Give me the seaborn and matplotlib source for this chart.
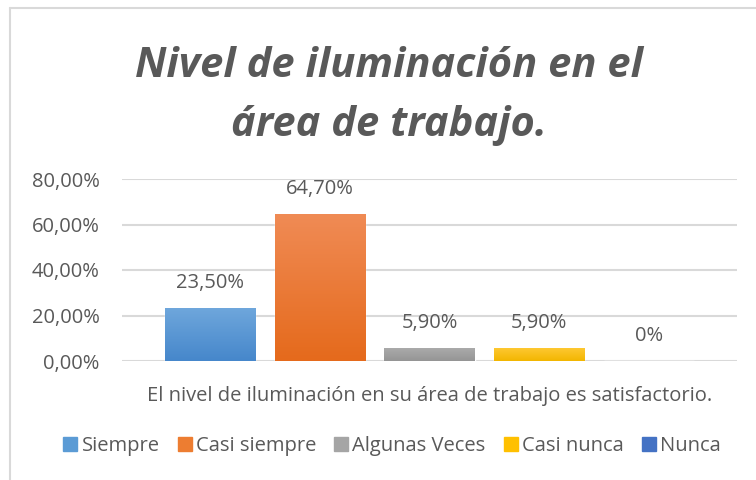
import numpy as np
import seaborn as sns
import matplotlib.pyplot as plt
from matplotlib.colors import LinearSegmentedColormap
from matplotlib.patches import Rectangle

categorias = ["Siempre", "Casi siempre", "Algunas Veces", "Casi nunca", "Nunca"]
valores = [0.235, 0.647, 0.059, 0.059, 0.0]
etiquetas = ["23,50%", "64,70%", "5,90%", "5,90%", "0%"]
ticks_y = [0.0, 0.2, 0.4, 0.6, 0.8]
ticks_y_txt = ["0,00%", "20,00%", "40,00%", "60,00%", "80,00%"]

colores = ["#5B9BD5", "#ED7D31", "#A5A5A5", "#FFC000", "#4472C4"]
degradados = [("#6FA7DC", "#4687CB"), ("#F08B55", "#E56A1C"), ("#ACACAC", "#959595"),
              ("#FFC935", "#F2B600"), ("#5582D0", "#3B66B8")]
gris = "#595959"
fs = 14.5

sns.set_style("white")
plt.rcParams["font.family"] = ["Open Sans", "DejaVu Sans"]

fig = plt.figure(figsize=(7.56, 4.8), dpi=100)
ax = fig.add_axes([122 / 756, 1 - 361 / 480, (737 - 122) / 756, (361 - 179) / 480])

sns.barplot(x=categorias, y=valores, hue=categorias, palette=colores,
            width=0.82, legend=False, ax=ax, zorder=3)

# degradado vertical dentro de cada barra
for p, (c1, c2) in zip(ax.patches, degradados):
    x0, y0 = p.get_x(), p.get_y()
    w, h = p.get_width(), p.get_height()
    if h <= 0:
        continue
    cmap = LinearSegmentedColormap.from_list("g", [c2, c1])
    grad = np.linspace(0, 1, 100).reshape(-1, 1)
    im = ax.imshow(grad, cmap=cmap, aspect="auto", origin="lower",
                   extent=[x0, x0 + w, y0, y0 + h], zorder=4)
    im.set_clip_path(p)

for i, (v, t) in enumerate(zip(valores, etiquetas)):
    ax.annotate(t, (i, v), xytext=(0, 18), textcoords="offset points",
                ha="center", va="center", fontsize=fs, color=gris)

ax.set_xlim(-0.8, 4.8)
ax.set_ylim(0, 0.8)
ax.set_yticks(ticks_y)
ax.set_yticklabels(ticks_y_txt, fontsize=fs, color=gris)
ax.tick_params(axis="y", length=0, pad=16)
ax.set_xticks([])
ax.set_xlabel("El nivel de iluminación en su área de trabajo es satisfactorio.",
              fontsize=fs, color=gris, labelpad=18)
ax.yaxis.grid(True, color="#D9D9D9", lw=1.5, zorder=0)
for s in ax.spines.values():
    s.set_visible(False)

fig.text(0.515, 0.80, "Nivel de iluminación en el\nárea de trabajo.", ha="center", va="center",
         fontsize=30, fontweight="bold", fontstyle="italic", color=gris, linespacing=1.58)

handles = [Rectangle((0, 0), 1, 1, color=c) for c in colores]
fig.legend(handles, categorias, loc="center", bbox_to_anchor=(392 / 756, 1 - 446 / 480),
           ncol=5, frameon=False, fontsize=fs, labelcolor=gris,
           handlelength=0.7, handleheight=0.7, handletextpad=0.2, columnspacing=0.9)

# marco del área del gráfico
fig.add_artist(plt.Line2D([10 / 756, 10 / 756], [0, 1 - 8 / 480], color="#D9D9D9", lw=1.5))
fig.add_artist(plt.Line2D([10 / 756, 1], [1 - 8 / 480, 1 - 8 / 480], color="#D9D9D9", lw=1.5))

fig.savefig("out.png", dpi=100, facecolor="white")
